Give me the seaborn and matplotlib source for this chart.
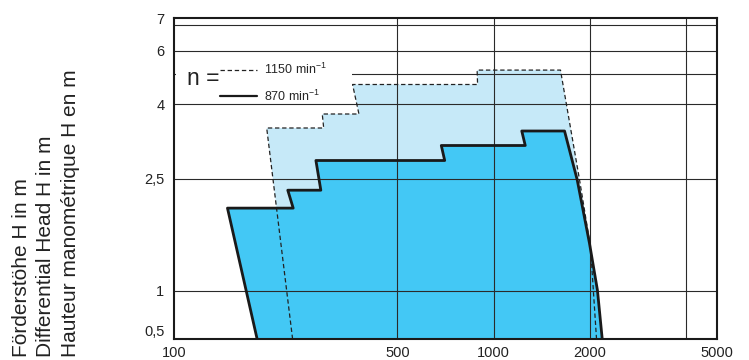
import numpy as np
import pandas as pd
import matplotlib
matplotlib.use("Agg")
import matplotlib.pyplot as plt
import seaborn as sns
from matplotlib.ticker import FixedLocator, NullFormatter, FixedFormatter
from matplotlib.lines import Line2D
from matplotlib.patches import Rectangle

# ---- data ----
# 1150 min^-1 envelope (dashed, light fill)
q_1150 = [235, 195, 294, 291, 379, 362, 891, 888, 1619, 1857, 2010, 2099]
h_1150 = [0.5, 3.52, 3.52, 3.8, 3.8, 4.65, 4.65, 5.17, 5.17, 2.49, 1.59, 0.5]
# 870 min^-1 envelope (solid, dark fill)
q_870 = [182, 147, 236, 227, 288, 278, 703, 686, 1256, 1225, 1667, 1826, 1995, 2113, 2187]
h_870 = [0.5, 2.11, 2.11, 2.35, 2.35, 2.87, 2.87, 3.17, 3.17, 3.46, 3.46, 2.49, 1.64, 1.01, 0.5]

x_ticks = [100, 500, 1000, 2000, 5000]
x_ticklabels = ["100", "500", "1000", "2000", "5000"]
x_grid = [500, 1000, 2000, 4000]
y_ticks = [0.5, 1, 2.5, 4, 6, 7]
y_ticklabels = ["0,5", "1", "2,5", "4", "6", "7"]
y_grid = [1, 2.5, 4, 5, 6, 6.8]

# nomograph-like vertical scale (value -> relative position)
scale_vals = [0.5, 1, 2.5, 4, 5, 6, 7]
scale_pos = [0, 48, 160, 235, 265, 288, 321]

sns.set_theme(style="white")
plt.rcParams["font.family"] = ["Liberation Sans", "DejaVu Sans"]
plt.rcParams["mathtext.fontset"] = "custom"
plt.rcParams["mathtext.rm"] = "Liberation Sans"
plt.rcParams["mathtext.it"] = "Liberation Sans:italic"

df1150 = pd.DataFrame({"Q": q_1150, "H": h_1150})
df870 = pd.DataFrame({"Q": q_870, "H": h_870})

fig = plt.figure(figsize=(7.49, 3.60), dpi=100)
ax = fig.add_axes([174/749, 1-339/360, (717-174)/749, (339-18)/360])

def fwd(v):
    return np.interp(v, scale_vals, scale_pos)

def inv(p):
    return np.interp(p, scale_pos, scale_vals)

ax.set_xscale("log")
ax.set_yscale("function", functions=(fwd, inv))
ax.set_xlim(100, 5000)
ax.set_ylim(0.5, 7)

light = "#c6e9f8"
dark = "#43c8f5"
ax.fill(df1150["Q"], df1150["H"], color=light, lw=0, zorder=1)
ax.fill(df870["Q"], df870["H"], color=dark, lw=0, zorder=1.2)

dash = (0, (3.5, 2.2))
sns.lineplot(data=df1150, x="Q", y="H", sort=False, estimator=None, ax=ax,
             color="#222222", lw=0.9, linestyle=dash, zorder=3)
sns.lineplot(data=df870, x="Q", y="H", sort=False, estimator=None, ax=ax,
             color="#1a1a1a", lw=2.0, zorder=3.5)

ax.xaxis.remove_overlapping_locs = False
ax.yaxis.remove_overlapping_locs = False
ax.xaxis.set_major_locator(FixedLocator(x_ticks))
ax.xaxis.set_major_formatter(FixedFormatter(x_ticklabels))
ax.xaxis.set_minor_locator(FixedLocator(x_grid))
ax.xaxis.set_minor_formatter(NullFormatter())
ax.yaxis.set_major_locator(FixedLocator(y_ticks))
ax.yaxis.set_major_formatter(FixedFormatter(y_ticklabels))
ax.yaxis.set_minor_locator(FixedLocator(y_grid))
ax.yaxis.set_minor_formatter(NullFormatter())

ax.set_axisbelow(False)
ax.grid(False, which="major")
ax.grid(True, which="minor", color="#2a2a2a", lw=0.8)
ax.tick_params(which="both", length=0)
ax.tick_params(axis="x", pad=5, labelsize=10.5, colors="#222222")
ax.tick_params(axis="y", pad=7, labelsize=10.5, colors="#222222")
ylabs = ax.get_yticklabels()
ylabs[0].set_verticalalignment("bottom")

for s in ax.spines.values():
    s.set_color("#1a1a1a")
    s.set_linewidth(1.5)
    s.set_zorder(8)

ax.set_xlabel("")
ax.set_ylabel("")

# white backing behind the legend block
ax.add_patch(Rectangle((0.004, 0.782), 0.324, 0.087, transform=ax.transAxes,
                       facecolor="white", edgecolor="none", zorder=4))

handles = [Line2D([], [], color="#222222", lw=0.9, linestyle=dash),
           Line2D([], [], color="#1a1a1a", lw=1.6)]
leg = ax.legend(handles, ["1150 min$^{-1}$", "870 min$^{-1}$"],
                loc="upper left", bbox_to_anchor=(0.077, 0.875),
                fontsize=9, frameon=False, borderpad=0.3,
                borderaxespad=0, handlelength=3.0, handletextpad=0.55,
                labelspacing=0.9)
leg.set_zorder(5)
ax.text(0.024, 0.81, "n =", transform=ax.transAxes, fontsize=16.5,
        va="center", ha="left", color="#222222", zorder=6)

fig.text(46/749, 3/360,
         "Förderstöhe H in m\nDifferential Head H in m\nHauteur manométrique H en m",
         rotation=90, ha="center", va="bottom", multialignment="left",
         fontsize=15, linespacing=1.35, color="#222222")

fig.savefig("out.png", dpi=100)
